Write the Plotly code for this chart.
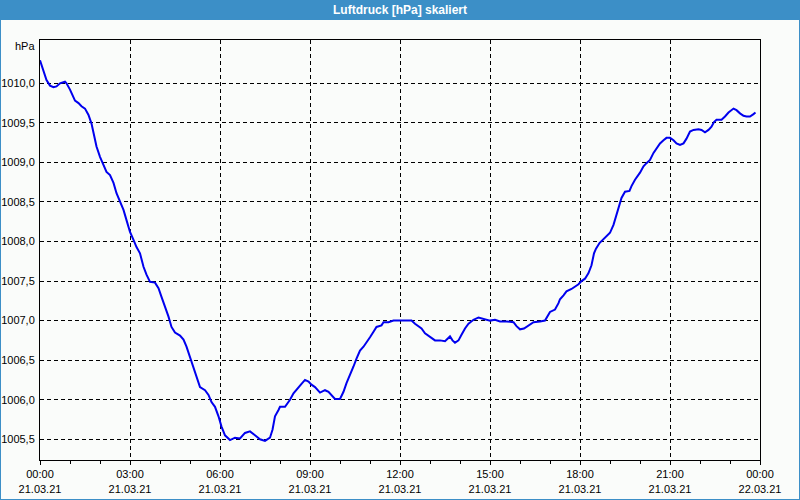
import plotly.graph_objects as go

# ---- data ----
times = ["00:00","00:07","00:13","00:20","00:27","00:33","00:40","00:50","00:53","01:00",
         "01:07","01:10","01:17","01:23","01:30","01:37","01:43","01:47","01:53","02:00",
         "02:07","02:13","02:20","02:27","02:33","02:40","02:47","02:53","03:00","03:07",
         "03:13","03:20","03:27","03:33","03:40","03:50","03:57","04:03","04:10","04:17",
         "04:23","04:30","04:40","04:47","04:53","05:00","05:07","05:13","05:20","05:30",
         "05:37","05:43","05:50","05:57","06:03","06:10","06:20","06:30","06:40","06:50",
         "07:00","07:10","07:20","07:30","07:40","07:45","07:50","07:57","08:00","08:10",
         "08:15","08:20","08:27","08:33","08:43","08:50","08:57","09:03","09:10","09:20",
         "09:30","09:37","09:43","09:50","10:00","10:07","10:13","10:20","10:27","10:33",
         "10:40","10:47","10:53","11:00","11:07","11:13","11:23","11:27","11:37","11:47",
         "12:00","12:23","12:30","12:37","12:43","12:50","12:57","13:03","13:10","13:20",
         "13:30","13:40","13:45","13:50","13:57","14:03","14:10","14:17","14:27","14:37",
         "14:43","14:50","15:00","15:10","15:20","15:33","15:47","15:53","16:00","16:08",
         "16:17","16:27","16:40","16:50","17:00","17:10","17:17","17:20","17:27","17:33",
         "17:43","17:50","17:57","18:03","18:10","18:17","18:23","18:28","18:32","18:39",
         "18:47","18:53","19:00","19:07","19:13","19:19","19:23","19:30","19:39","19:43",
         "19:50","20:00","20:07","20:13","20:20","20:27","20:33","20:40","20:47","20:53",
         "21:00","21:07","21:13","21:20","21:27","21:33","21:40","21:47","21:57","22:03",
         "22:10","22:17","22:23","22:28","22:33","22:43","22:50","22:57","23:07","23:13",
         "23:20","23:27","23:33","23:40","23:47","23:51"]
pressure = [1010.29,1010.17,1010.04,1009.97,1009.95,1009.96,1010.00,1010.02,1010.00,1009.92,
            1009.83,1009.78,1009.75,1009.71,1009.68,1009.60,1009.49,1009.37,1009.20,1009.07,
            1008.97,1008.88,1008.84,1008.74,1008.61,1008.50,1008.40,1008.27,1008.12,1008.02,
            1007.93,1007.85,1007.68,1007.58,1007.49,1007.48,1007.41,1007.30,1007.18,1007.05,
            1006.92,1006.85,1006.81,1006.76,1006.67,1006.54,1006.42,1006.29,1006.16,1006.12,
            1006.06,1005.97,1005.91,1005.79,1005.66,1005.55,1005.49,1005.52,1005.51,1005.58,
            1005.60,1005.55,1005.50,1005.48,1005.52,1005.62,1005.79,1005.87,1005.91,1005.91,
            1005.95,1006.00,1006.08,1006.13,1006.20,1006.25,1006.23,1006.19,1006.16,1006.09,
            1006.12,1006.10,1006.06,1006.01,1006.01,1006.10,1006.21,1006.31,1006.42,1006.52,
            1006.62,1006.67,1006.72,1006.79,1006.86,1006.92,1006.94,1006.98,1006.98,1007.00,
            1007.00,1007.00,1006.96,1006.93,1006.90,1006.84,1006.81,1006.78,1006.75,1006.75,
            1006.74,1006.80,1006.75,1006.72,1006.75,1006.82,1006.90,1006.96,1007.01,1007.04,
            1007.03,1007.01,1007.00,1007.01,1006.99,1006.99,1006.98,1006.93,1006.89,1006.90,
            1006.94,1006.98,1006.99,1007.00,1007.11,1007.14,1007.22,1007.27,1007.32,1007.37,
            1007.40,1007.43,1007.46,1007.50,1007.53,1007.60,1007.70,1007.85,1007.91,1007.98,
            1008.03,1008.06,1008.11,1008.21,1008.34,1008.45,1008.55,1008.63,1008.64,1008.70,
            1008.78,1008.87,1008.95,1008.99,1009.03,1009.12,1009.18,1009.24,1009.28,1009.31,
            1009.31,1009.28,1009.24,1009.22,1009.24,1009.30,1009.39,1009.41,1009.42,1009.41,
            1009.38,1009.41,1009.45,1009.51,1009.54,1009.54,1009.58,1009.63,1009.68,1009.66,
            1009.62,1009.59,1009.58,1009.58,1009.61,1009.63]
day = "2021-03-21"
x_tick_vals = ["2021-03-21 00:00","2021-03-21 03:00","2021-03-21 06:00","2021-03-21 09:00",
               "2021-03-21 12:00","2021-03-21 15:00","2021-03-21 18:00","2021-03-21 21:00",
               "2021-03-22 00:00"]
x_tick_text = ["00:00<br>21.03.21","03:00<br>21.03.21","06:00<br>21.03.21","09:00<br>21.03.21",
               "12:00<br>21.03.21","15:00<br>21.03.21","18:00<br>21.03.21","21:00<br>21.03.21",
               "00:00<br>22.03.21"]
y_tick_vals = [1005.5,1006.0,1006.5,1007.0,1007.5,1008.0,1008.5,1009.0,1009.5,1010.0]
title = "Luftdruck [hPa] skaliert"
unit = "hPa"

x = [f"{day} {t}" for t in times]

BLUE_BAR = "#3c8fc7"
BG = "#fafcfa"
FONT = "Liberation Sans"

fig = go.Figure()
fig.add_trace(go.Scatter(x=x, y=pressure, mode="lines",
                         line=dict(color="#0000ee", width=2), showlegend=False))

W, H = 800, 500
L, R, T, B = 40, 40, 40, 40
pw, ph = W - L - R, H - T - B
def px(xp): return (xp - L) / pw
def py(yp): return (H - B - yp) / ph

shapes = [
    dict(type="rect", xref="paper", yref="paper", x0=px(0), x1=px(800), y0=py(20), y1=py(0),
         fillcolor=BLUE_BAR, line=dict(width=0), layer="above"),
    dict(type="line", xref="paper", yref="paper", x0=px(0.5), x1=px(0.5), y0=py(500), y1=py(20),
         line=dict(color=BLUE_BAR, width=1)),
    dict(type="line", xref="paper", yref="paper", x0=px(799.5), x1=px(799.5), y0=py(500), y1=py(20),
         line=dict(color=BLUE_BAR, width=1)),
    dict(type="line", xref="paper", yref="paper", x0=px(0), x1=px(800), y0=py(499.5), y1=py(499.5),
         line=dict(color=BLUE_BAR, width=1)),
]

fig.update_layout(
    width=W, height=H,
    margin=dict(l=L, r=R, t=T, b=B, autoexpand=False),
    paper_bgcolor=BG, plot_bgcolor=BG,
    separators=",.",
    font=dict(family=FONT, size=11, color="#000000"),
    shapes=shapes,
    annotations=[
        dict(text=f"<b>{title}</b>", xref="paper", yref="paper", x=0.5, y=py(10),
             xanchor="center", yanchor="middle", showarrow=False,
             font=dict(family=FONT, size=12, color="white")),
        dict(text=unit, xref="paper", yref="paper", x=px(37), y=py(46),
             xanchor="right", yanchor="middle", showarrow=False,
             font=dict(family=FONT, size=11, color="#000000")),
    ],
)

fig.update_xaxes(
    type="date", automargin=False,
    range=["2021-03-21 00:00", "2021-03-22 00:00"],
    tickmode="array", tickvals=x_tick_vals, ticktext=x_tick_text,
    ticks="outside", ticklen=4, tickcolor="black",
    showgrid=True, gridcolor="black", griddash="4px,3px", gridwidth=1,
    showline=True, linecolor="black", linewidth=1, mirror=True,
    zeroline=False,
    minor=dict(ticks="outside", ticklen=3, tickcolor="black", dtick=3600000,
               tick0="2021-03-21 00:00", showgrid=False),
    tickfont=dict(family=FONT, size=11),
)
fig.update_yaxes(
    range=[1005.238, 1010.547], automargin=False,
    tickmode="array", tickvals=y_tick_vals, tickformat=".1f",
    ticks="outside", ticklen=2, tickcolor=BG,
    showgrid=True, gridcolor="black", griddash="4px,3px", gridwidth=1,
    showline=True, linecolor="black", linewidth=1, mirror=True,
    zeroline=False,
    tickfont=dict(family=FONT, size=11),
)

fig.write_html("out.html")
